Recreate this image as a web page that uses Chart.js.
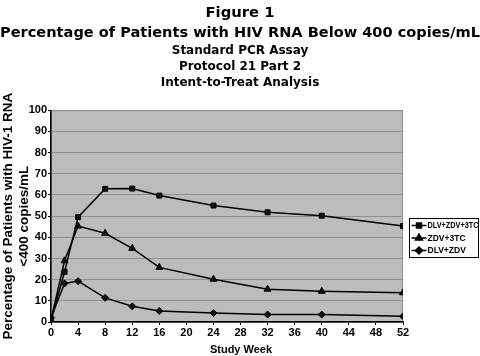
<!DOCTYPE html>
<html><head><meta charset="utf-8">
<script src="https://cdn.jsdelivr.net/npm/chart.js@4.4.0/dist/chart.umd.min.js"></script>
<style>html,body{margin:0;padding:0;background:#fff}#w{width:480px;height:356px}</style>
</head><body><div id="w"><canvas id="c"></canvas></div>
<script>
const weeks = [0, 2, 4, 8, 12, 16, 24, 32, 40, 52];
const seriesNames = ["DLV+ZDV+3TC", "ZDV+3TC", "DLV+ZDV"];
const dlvZdv3tc = [0.5, 23.7, 49.5, 62.9, 63, 59.7, 55, 51.8, 50.2, 45.3];
const zdv3tc = [1, 28.9, 45.3, 41.9, 34.8, 25.8, 20.2, 15.5, 14.5, 13.8];
const dlvZdv = [2, 18.2, 19.3, 11.4, 7.4, 5.2, 4.3, 3.5, 3.5, 2.7];
const xTicks = [0, 4, 8, 12, 16, 20, 24, 28, 32, 36, 40, 44, 48, 52];
const yTicks = [0, 10, 20, 30, 40, 50, 60, 70, 80, 90, 100];
const titleLines = ["Figure 1", "Percentage of Patients with HIV RNA Below 400 copies/mL"];
const subtitleLines = ["Standard PCR Assay", "Protocol 21 Part 2", "Intent-to-Treat Analysis"];
const yTitle = ["Percentage of Patients with HIV-1 RNA", "<400 copies/mL"];
const xTitle = "Study Week";

const F = "'DejaVu Sans', sans-serif";
const FL = "'Liberation Sans', Arial, sans-serif";
const styles = [
  {pointStyle: 'rect', radius: 3.5},
  {pointStyle: 'triangle', radius: 4},
  {pointStyle: 'rectRot', radius: 3.5}
];
const values = [dlvZdv3tc, zdv3tc, dlvZdv];
const datasets = values.map((v, i) => ({
  label: seriesNames[i],
  data: weeks.map((w, j) => ({x: w, y: v[j]})),
  borderColor: '#000', backgroundColor: '#000', borderWidth: 1.5,
  pointStyle: styles[i].pointStyle, pointRadius: styles[i].radius,
  pointBackgroundColor: '#111', pointBorderColor: '#000', pointBorderWidth: 1,
  tension: 0
}));

const plotBg = {
  id: 'plotBg',
  beforeDraw(chart) {
    const {ctx, chartArea: a} = chart;
    ctx.save();
    ctx.fillStyle = '#bcbcbc';
    ctx.fillRect(a.left, a.top, a.right - a.left, a.bottom - a.top);
    ctx.strokeStyle = '#8f8f8f'; ctx.lineWidth = 1;
    ctx.strokeRect(a.left + 0.5, a.top + 0.5, a.right - a.left - 1, a.bottom - a.top);
    ctx.restore();
  }
};
const extras = {
  id: 'extras',
  afterDraw(chart) {
    const ctx = chart.ctx;
    ctx.save();
    ctx.fillStyle = '#000';
    ctx.font = "bold 11px " + FL; ctx.textAlign = 'center'; ctx.textBaseline = 'middle';
    ctx.fillText(xTitle, 241, 350);
    const x0 = 409.5, y0 = 218.5, w = 69, h = 39;
    ctx.textAlign = 'left';
    ctx.fillStyle = '#fff'; ctx.fillRect(x0, y0, w, h);
    ctx.strokeStyle = '#000'; ctx.lineWidth = 1; ctx.strokeRect(x0, y0, w, h);
    ctx.font = "bold 8.5px " + FL;
    chart.data.datasets.forEach((ds, i) => {
      const y = y0 + 7 + i * 12.5;
      ctx.strokeStyle = '#000'; ctx.lineWidth = 1.5;
      ctx.beginPath(); ctx.moveTo(x0 + 2, y); ctx.lineTo(x0 + 17, y); ctx.stroke();
      ctx.fillStyle = '#000';
      Chart.helpers.drawPoint(ctx, {pointStyle: ds.pointStyle, radius: ds.pointRadius, borderWidth: 1}, x0 + 9.5, y);
      ctx.fill();
      ctx.fillText(ds.label, x0 + 18, y + 0.5, 51);
    });
    ctx.restore();
  }
};

new Chart(document.getElementById('c'), {
  type: 'line',
  data: {datasets},
  options: {
    responsive: true, maintainAspectRatio: false, animation: false,
    layout: {padding: 0},
    plugins: {
      legend: {display: false},
      tooltip: {enabled: false},
      title: {display: true, text: titleLines, color: '#000',
        font: {family: F, size: 14.8, weight: 'bold', lineHeight: 1.35}, padding: {top: 3.5, bottom: 0}},
      subtitle: {display: true, text: subtitleLines, color: '#000',
        font: {family: F, size: 12, weight: 'bold', lineHeight: 1.3}, padding: {top: 0, bottom: 20}}
    },
    scales: {
      x: {type: 'linear', min: 0, max: 52,
        afterBuildTicks(s) { s.ticks = xTicks.map(v => ({value: v})); },
        afterFit(s) { s.height = 34; },
        grid: {display: true, drawOnChartArea: false, drawTicks: true, tickLength: 3, tickColor: '#000'},
        border: {color: '#000', width: 1.5},
        ticks: {color: '#000', font: {family: FL, size: 11, weight: 'bold'}, padding: 1, maxRotation: 0, autoSkip: false},
        title: {display: false}
      },
      y: {min: 0, max: 100,
        afterBuildTicks(s) { s.ticks = yTicks.map(v => ({value: v})); },
        afterFit(s) { s.width = 51; },
        grid: {color: '#8f8f8f', lineWidth: 1, drawTicks: true, tickLength: 3, tickColor: '#000'},
        border: {color: '#000', width: 1.5},
        ticks: {color: '#000', font: {family: FL, size: 11, weight: 'bold'}, padding: 1},
        title: {display: true, text: yTitle, color: '#000', font: {family: FL, size: 13.5, weight: 'bold', lineHeight: 1.18}, padding: 0}
      },
      pad: {position: 'right', display: true,
        afterFit(s) { s.width = 77; },
        grid: {display: false}, border: {display: false}, ticks: {display: false}}
    }
  },
  plugins: [plotBg, extras]
});
</script></body></html>
